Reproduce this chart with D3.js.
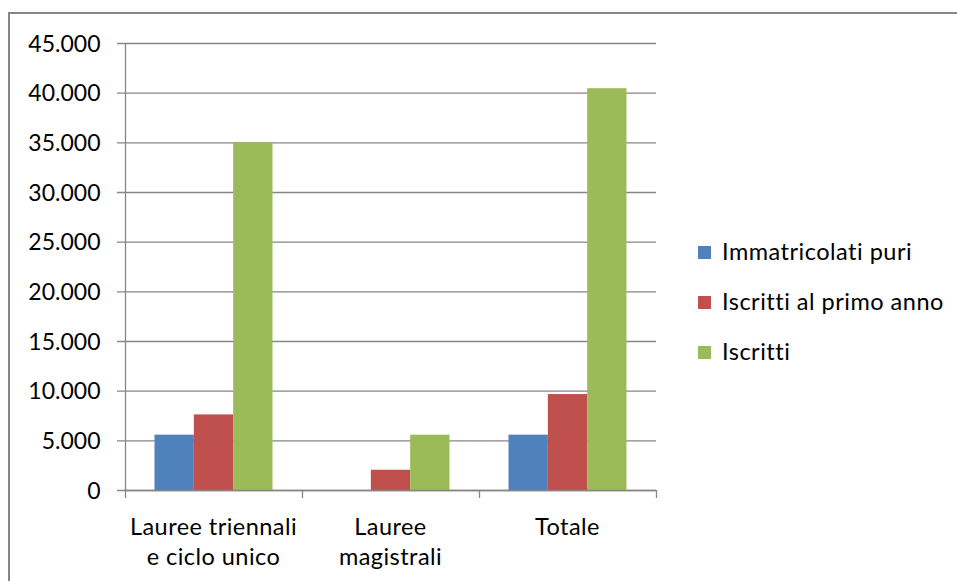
<!DOCTYPE html>
<html><head><meta charset="utf-8">
<script src="https://cdn.jsdelivr.net/npm/d3@7"></script>
<style>body{margin:0;background:#fff}svg{display:block}text{font-family:Lato,"Open Sans",sans-serif;fill:#000}</style>
</head><body>
<svg id="c" width="957" height="581"></svg>
<script>
const categories = [["Lauree triennali","e ciclo unico"],["Lauree","magistrali"],["Totale"]];
const seriesNames = ["Immatricolati puri","Iscritti al primo anno","Iscritti"];
const immatricolati = [5570, 0, 5570];
const primoAnno = [7610, 2040, 9660];
const iscritti = [35000, 5570, 40450];
const yTicks = [0,5000,10000,15000,20000,25000,30000,35000,40000,45000];
const colors = ["#4F81BD","#C0504D","#9BBB59"];

const series = [immatricolati, primoAnno, iscritti];
const svg = d3.select("#c");
svg.append("rect").attr("x",9).attr("y",13).attr("width",960).attr("height",600)
  .attr("fill","#fff").attr("stroke","#868686").attr("stroke-width",2);

const L=125, R=656, T=43, B=490;
const x = d3.scaleBand().domain(d3.range(categories.length)).range([L,R]).paddingInner(59/177).paddingOuter(29.5/177);
const x0 = d3.scaleBand().domain(d3.range(categories.length)).range([L,R]);
const xs = d3.scaleBand().domain(d3.range(series.length)).range([0,x.bandwidth()]);
const y = d3.scaleLinear().domain([0,45000]).range([B,T]);
const fmt = v => v===0 ? "0" : d3.format(",")(v).replace(/,/g,".");

// gridlines
svg.append("g").selectAll("line").data(yTicks).join("line")
  .attr("x1",117).attr("x2",R).attr("y1",d=>y(d)+0.5).attr("y2",d=>y(d)+0.5)
  .attr("stroke","#868686").attr("stroke-width",1.3);

// bars
series.forEach((s,si)=>{
  svg.append("g").selectAll("rect").data(s).join("rect")
    .attr("x",(d,i)=>x(i)+xs(si)).attr("width",xs.bandwidth())
    .attr("y",d=>y(d)).attr("height",d=>B-y(d)).attr("fill",colors[si]);
});

// y axis
const ya = d3.axisLeft(y).tickValues(yTicks).tickFormat(fmt).tickSize(8).tickPadding(17);
const gy = svg.append("g").attr("transform",`translate(${L+0.5},0.5)`).call(ya);
gy.select(".domain").remove();
gy.selectAll(".tick line").remove();
gy.selectAll("text").attr("font-size",23).attr("font-family","Lato").attr("fill","#000").attr("dy","0.34em");
svg.append("line").attr("x1",L+0.5).attr("x2",L+0.5).attr("y1",T).attr("y2",B).attr("stroke","#868686").attr("stroke-width",1.3);

// x axis
svg.append("line").attr("x1",L).attr("x2",R).attr("y1",B+0.5).attr("y2",B+0.5).attr("stroke","#868686").attr("stroke-width",1.3);
const xt = [...d3.range(categories.length).map(i=>x0(i)), R];
svg.append("g").selectAll("line").data(xt).join("line")
  .attr("x1",d=>d+0.5).attr("x2",d=>d+0.5).attr("y1",B).attr("y2",B+8)
  .attr("stroke","#868686").attr("stroke-width",1.3);
const lab = svg.append("g").selectAll("text").data(categories).join("text")
  .attr("text-anchor","middle").attr("font-size",23.5).attr("letter-spacing","0.45px")
  .attr("transform",(d,i)=>`translate(${x0(i)+x0.bandwidth()/2},535)`);
lab.selectAll("tspan").data(d=>d).join("tspan").attr("x",0).attr("dy",(d,j)=>j?30:0).text(d=>d);

// legend
const lg = svg.append("g").selectAll("g").data(seriesNames).join("g")
  .attr("transform",(d,i)=>`translate(698,${246+i*50})`);
lg.append("rect").attr("width",13).attr("height",13).attr("fill",(d,i)=>colors[i]);
lg.append("text").attr("x",24).attr("y",14).attr("font-size",23.5).attr("letter-spacing","0.5px").text(d=>d);
</script>
</body></html>
